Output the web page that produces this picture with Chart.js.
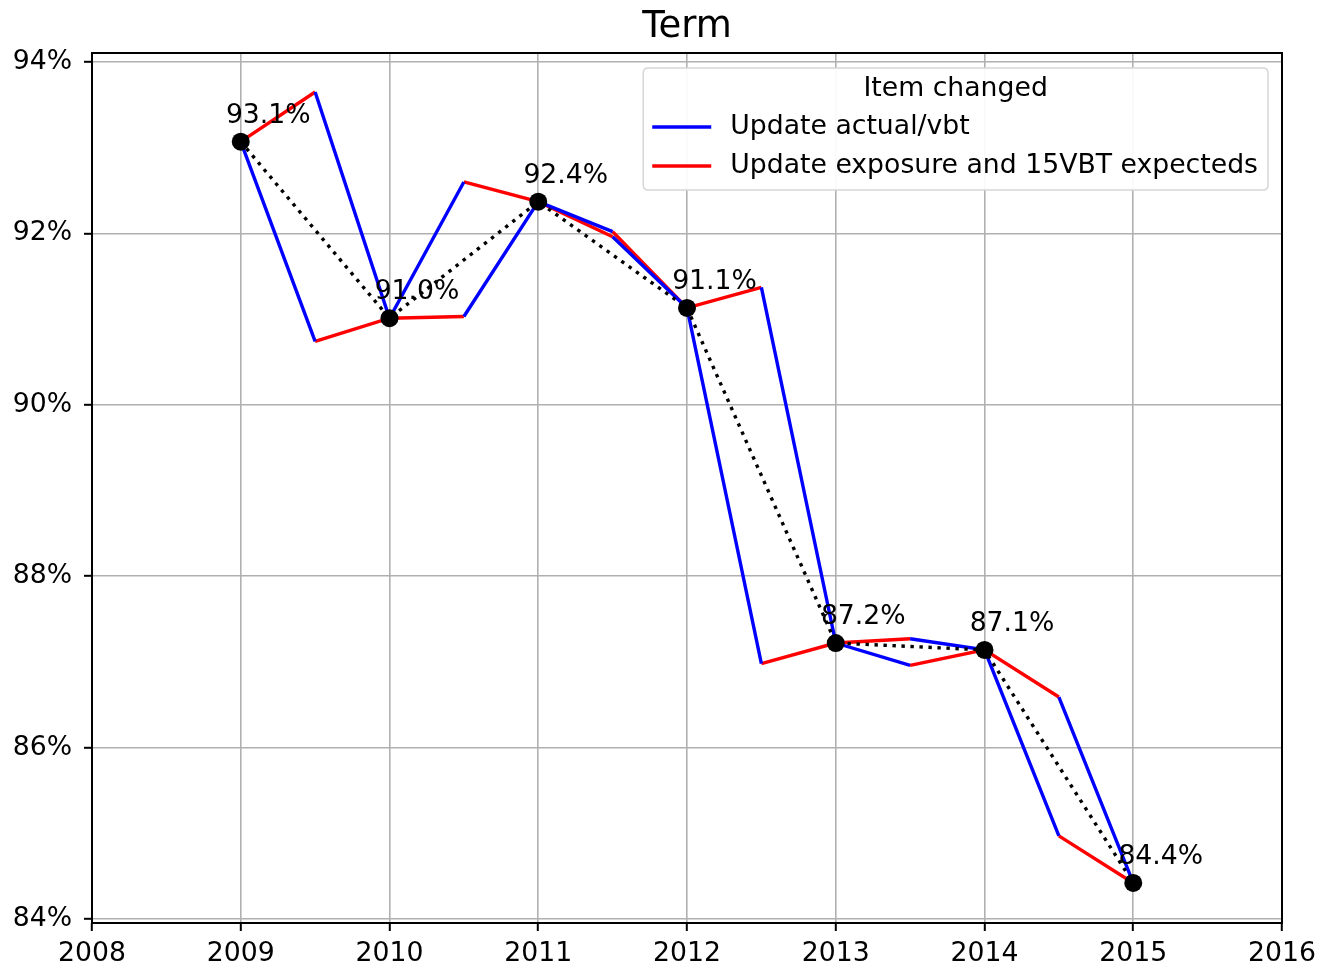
<!DOCTYPE html>
<html><head><meta charset="utf-8">
<script src="https://cdn.jsdelivr.net/npm/chart.js@4.4.0/dist/chart.umd.min.js"></script>
<style>html,body{margin:0;padding:0;background:#fff;overflow:hidden;} #wrap{width:1321px;height:969px;}</style>
</head><body><div id="wrap"><canvas id="c" width="1321" height="969"></canvas></div>
<script>
const chartTitle = 'Term';
const legendTitle = 'Item changed';
const seriesNames = ['Update actual/vbt', 'Update exposure and 15VBT expecteds'];
const years = [2009, 2010, 2011, 2012, 2013, 2014, 2015];
const totals = [93.07, 91.01, 92.37, 91.13, 87.22, 87.14, 84.42];
const totalLabels = ['93.1%', '91.0%', '92.4%', '91.1%', '87.2%', '87.1%', '84.4%'];
const midYears = [2009.5, 2010.5, 2011.5, 2012.5, 2013.5, 2014.5];
const actualFirstMid = [90.74, 92.60, 92.02, 86.98, 86.96, 84.97];
const exposureFirstMid = [93.65, 91.03, 91.96, 91.37, 87.27, 86.59];
const xTicks = [2008, 2009, 2010, 2011, 2012, 2013, 2014, 2015, 2016];
const yTicks = [84, 86, 88, 90, 92, 94];
const yTickLabels = ['84%', '86%', '88%', '90%', '92%', '94%'];

function buildPath(firstMid, secondMid) {
  const pts = [{x: years[0], y: totals[0]}];
  for (let i = 0; i < midYears.length; i++) {
    pts.push({x: midYears[i], y: firstMid[i]});
    pts.push({x: midYears[i], y: null});
    pts.push({x: midYears[i], y: secondMid[i]});
    pts.push({x: years[i + 1], y: totals[i + 1]});
  }
  return pts;
}

const FONT = 'DejaVu Sans';
const FS = 26.7;

const decor = {
  id: 'decor',
  afterDraw(chart) {
    const ctx = chart.ctx;
    const a = chart.chartArea;
    const xs = chart.scales.x, ys = chart.scales.y;
    ctx.save();
    // spines
    ctx.strokeStyle = '#000';
    ctx.lineWidth = 2;
    ctx.strokeRect(a.left, a.top, a.right - a.left, a.bottom - a.top);
    // title
    ctx.fillStyle = '#000';
    ctx.font = '37px "' + FONT + '"';
    ctx.textAlign = 'center';
    ctx.textBaseline = 'alphabetic';
    ctx.fillText(chartTitle, (a.left + a.right) / 2, 37);
    // value labels
    ctx.font = FS + 'px "' + FONT + '"';
    ctx.textAlign = 'left';
    for (let i = 0; i < years.length; i++) {
      ctx.fillText(totalLabels[i], xs.getPixelForValue(years[i] - 0.1), ys.getPixelForValue(totals[i] + 0.22));
    }
    // legend
    const padX = 9, handleLen = 59, gap = 19, rowH = 39;
    let maxW = 0;
    seriesNames.forEach(n => { maxW = Math.max(maxW, ctx.measureText(n).width); });
    const w = padX + handleLen + gap + maxW + padX + 1;
    const h = 122;
    const right = a.right - 14, top = a.top + 15;
    const left = right - w;
    const r = 5;
    ctx.beginPath();
    ctx.moveTo(left + r, top);
    ctx.lineTo(right - r, top); ctx.quadraticCurveTo(right, top, right, top + r);
    ctx.lineTo(right, top + h - r); ctx.quadraticCurveTo(right, top + h, right - r, top + h);
    ctx.lineTo(left + r, top + h); ctx.quadraticCurveTo(left, top + h, left, top + h - r);
    ctx.lineTo(left, top + r); ctx.quadraticCurveTo(left, top, left + r, top);
    ctx.closePath();
    ctx.fillStyle = 'rgba(255,255,255,0.92)';
    ctx.fill();
    ctx.strokeStyle = '#d6d6d6';
    ctx.lineWidth = 1.5;
    ctx.stroke();
    ctx.fillStyle = '#000';
    ctx.textBaseline = 'middle';
    ctx.textAlign = 'center';
    ctx.fillText(legendTitle, (left + right) / 2, top + 21);
    ctx.textAlign = 'left';
    const colors = chart.data.datasets.slice(1).map(d => d.borderColor);
    seriesNames.forEach((n, i) => {
      const cy = top + 59 + i * rowH;
      ctx.strokeStyle = colors[i];
      ctx.lineWidth = 3.4;
      ctx.beginPath();
      ctx.moveTo(left + padX, cy);
      ctx.lineTo(left + padX + handleLen, cy);
      ctx.stroke();
      ctx.fillText(n, left + padX + handleLen + gap, cy);
    });
    ctx.restore();
  }
};

new Chart(document.getElementById('c'), {
  type: 'line',
  data: {
    datasets: [
      {
        label: 'Total',
        data: years.map((x, i) => ({x, y: totals[i]})),
        borderColor: '#000', borderWidth: 3.4, borderDash: [3.4, 5.6], borderCapStyle: 'butt',
        pointRadius: 9, pointBackgroundColor: '#000', pointBorderWidth: 0, pointHoverRadius: 9,
        tension: 0, fill: false
      },
      {
        label: seriesNames[0],
        data: buildPath(actualFirstMid, exposureFirstMid),
        borderColor: '#0000ff', borderWidth: 3.4, pointRadius: 0, tension: 0, fill: false, spanGaps: false
      },
      {
        label: seriesNames[1],
        data: buildPath(exposureFirstMid, actualFirstMid),
        borderColor: '#ff0000', borderWidth: 3.4, pointRadius: 0, tension: 0, fill: false, spanGaps: false
      }
    ]
  },
  options: {
    responsive: false,
    animation: false,
    devicePixelRatio: 1,
    layout: {padding: {left: 0, right: 39, top: 53, bottom: 0}},
    plugins: {
      legend: {display: false},
      tooltip: {enabled: false},
      title: {display: false}
    },
    scales: {
      x: {
        type: 'linear', min: 2008, max: 2016,
        afterBuildTicks: s => { s.ticks = xTicks.map(v => ({value: v})); },
        afterFit: s => { s.height = 46; s.paddingLeft = 0; s.paddingRight = 0; },
        grid: {color: '#b0b0b0', lineWidth: 1.6, tickLength: 8, tickColor: '#000', tickWidth: 2},
        border: {display: false},
        ticks: {font: {family: FONT, size: FS}, color: '#000', padding: 7, maxRotation: 0, autoSkip: false,
                callback: (v, i) => String(xTicks[i])}
      },
      y: {
        type: 'linear', min: 83.953, max: 94.105,
        afterBuildTicks: s => { s.ticks = yTicks.map(v => ({value: v})); },
        afterFit: s => { s.width = 92; s.paddingTop = 0; s.paddingBottom = 0; },
        grid: {color: '#b0b0b0', lineWidth: 1.6, tickLength: 8, tickColor: '#000', tickWidth: 2},
        border: {display: false},
        ticks: {font: {family: FONT, size: FS}, color: '#000', padding: 12, autoSkip: false,
                callback: (v, i) => yTickLabels[i]}
      }
    }
  },
  plugins: [decor]
});
</script>
</body></html>
